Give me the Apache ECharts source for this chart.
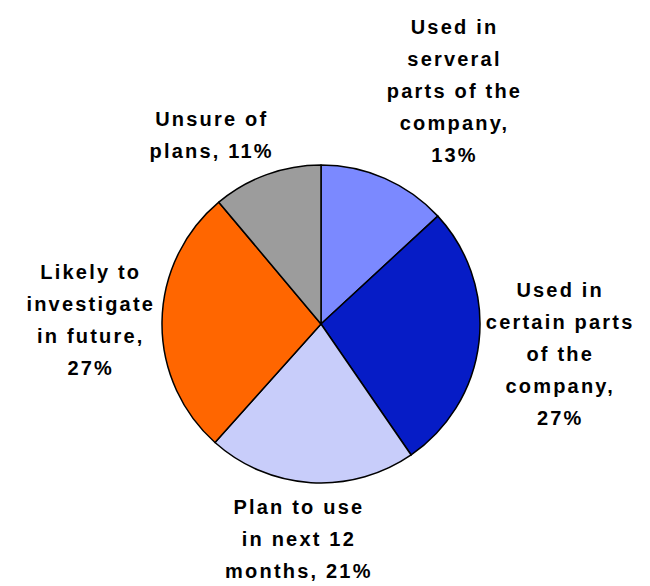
<!DOCTYPE html>
<html>
<head>
<meta charset="utf-8">
<script src="https://cdn.jsdelivr.net/npm/echarts@6/dist/echarts.min.js"></script>
<style>
  html, body { margin: 0; padding: 0; background: #fff; }
  #chart { width: 650px; height: 586px; }
  #chart text { letter-spacing: 2.2px; }
</style>
</head>
<body>
<div id="chart"></div>
<script>
const categories = [
  "Used in\nserveral\nparts of the\ncompany",
  "Used in\ncertain parts\nof the\ncompany",
  "Plan to use\nin next 12\nmonths",
  "Likely to\ninvestigate\nin future",
  "Unsure of\nplans"
];
const valueSeparators = [",\n", ",\n", ", ", ",\n", ", "];
const values = [13, 27, 21, 27, 11];
const colors = ["#7B89FF", "#061CC6", "#C8CDFA", "#FF6600", "#9C9C9C"];

const CX = 321, CY = 324, R = 159, GAP = 8, SPACING = 2.2;
const total = values.reduce((a, b) => a + b, 0);

const chart = echarts.init(document.getElementById('chart'), null, { renderer: 'svg' });

function clamp(v) { return Math.max(-1, Math.min(1, v)); }

chart.setOption({
  animation: false,
  series: [{
    type: 'pie',
    center: [CX, CY],
    radius: R,
    startAngle: 90,
    clockwise: true,
    avoidLabelOverlap: false,
    data: categories.map((c, i) => ({
      name: c,
      value: values[i],
      itemStyle: { color: colors[i] }
    })),
    itemStyle: { borderColor: '#000', borderWidth: 1.5 },
    label: {
      show: true,
      position: 'outside',
      formatter: p => p.name + valueSeparators[p.dataIndex] + p.value + '%',
      fontFamily: 'Liberation Sans, Arial, sans-serif',
      fontWeight: 'bold',
      fontSize: 20,
      lineHeight: 32,
      color: '#000',
      align: 'center'
    },
    labelLine: { show: false },
    emphasis: { disabled: true },
    labelLayout: function (params) {
      const i = params.dataIndex;
      let before = 0;
      for (let k = 0; k < i; k++) before += values[k];
      const mid = (before + values[i] / 2) / total * Math.PI * 2;
      const ux = Math.sin(mid), uy = -Math.cos(mid);
      const px = CX + ux * (R + GAP), py = CY + uy * (R + GAP);
      const lines = (params.text || '').split('\n');
      const maxChars = Math.max.apply(null, lines.map(l => l.length));
      const w = params.labelRect.width + (maxChars - 1) * SPACING;
      const h = params.labelRect.height;
      const sx = clamp(ux * 2.5), sy = clamp(uy * 1.3);
      return {
        x: px + sx * w / 2,
        y: py + sy * h / 2,
        align: 'center',
        verticalAlign: 'middle'
      };
    }
  }]
});
</script>
</body>
</html>
